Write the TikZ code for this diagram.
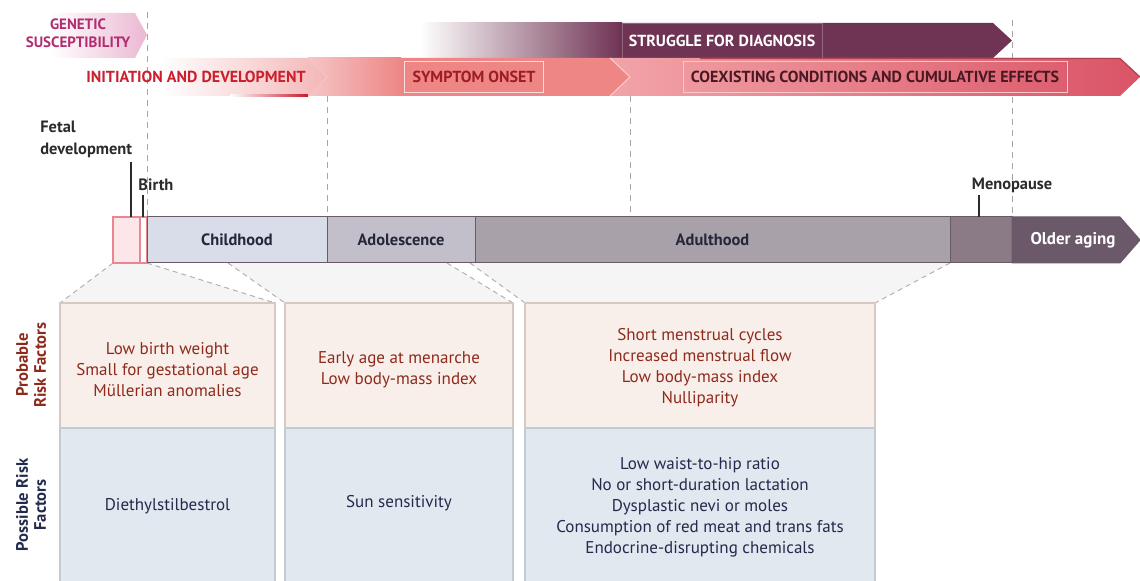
\documentclass[tikz,border=0pt]{standalone}
\usepackage{fontspec}
\setmainfont{PT Sans}
\usetikzlibrary{positioning}
\definecolor{genered}{HTML}{B22C70}
\definecolor{genepink}{HTML}{EBB8D2}
\definecolor{initred}{HTML}{CC1F2E}
\definecolor{initpink}{HTML}{F4B6B6}
\definecolor{initline}{HTML}{C41A2C}
\definecolor{onsetpink}{HTML}{F6C6C6}
\definecolor{onsetsalmon}{HTML}{EE8686}
\definecolor{onsetred}{HTML}{9E1C26}
\definecolor{coexpink}{HTML}{F2A4A8}
\definecolor{coexrose}{HTML}{DA5466}
\definecolor{coexdark}{HTML}{4A1822}
\definecolor{strugglepurple}{HTML}{6F3353}
\definecolor{labelgray}{HTML}{2B2B2B}
\definecolor{fetalpink}{HTML}{FCE6E9}
\definecolor{fetalline}{HTML}{E8878F}
\definecolor{childfill}{HTML}{D9DCE9}
\definecolor{adolfill}{HTML}{C3BFCA}
\definecolor{adultfill}{HTML}{A9A1A9}
\definecolor{menofill}{HTML}{8B7B86}
\definecolor{olderfill}{HTML}{6B5868}
\definecolor{stageline}{HTML}{6A5A68}
\definecolor{stagenavy}{HTML}{24263A}
\definecolor{probfill}{HTML}{F9EFEA}
\definecolor{probline}{HTML}{D6C8C2}
\definecolor{probred}{HTML}{8E2A1C}
\definecolor{possfill}{HTML}{E1E8EF}
\definecolor{possline}{HTML}{C2CAD2}
\definecolor{possnavy}{HTML}{232A4C}
\definecolor{funnelgray}{HTML}{F5F5F5}

\begin{document}
\begin{tikzpicture}[x=0.5pt,y=-0.5pt]
\tikzstyle{guide}=[draw=black!35, dash pattern=on 3pt off 2.5pt, line width=0.5pt]
\tikzstyle{bandtext}=[font=\fontsize{8}{9}\selectfont\bfseries, inner sep=2pt]
\tikzstyle{textbox}=[bandtext, minimum height=15.5pt, line width=0.4pt]
\tikzstyle{stage}=[rectangle, draw=stageline, line width=0.5pt, minimum height=23pt, outer sep=0pt, inner sep=0pt, font=\fontsize{8.2}{9}\selectfont\bfseries, text=stagenavy]
\tikzstyle{lifelabel}=[font=\fontsize{8.2}{11}\selectfont\bfseries, text=labelgray, inner sep=0pt]
\tikzstyle{tick}=[draw=labelgray, line width=0.7pt]
\tikzstyle{funnel}=[draw=black!30, dash pattern=on 2.5pt off 2pt, line width=0.5pt]
\tikzstyle{probbox}=[fill=probfill, draw=probline, line width=0.7pt]
\tikzstyle{possbox}=[fill=possfill, draw=possline, line width=0.7pt]
\tikzstyle{probtext}=[align=center, text=probred, font=\fontsize{8.5}{10.5}\selectfont]
\tikzstyle{posstext}=[align=center, text=possnavy, font=\fontsize{8.5}{10.5}\selectfont]
\tikzstyle{rowtext}=[align=center, rotate=90, font=\fontsize{8.3}{9}\selectfont\bfseries]
  \clip (0,0) rectangle (1140,581);
  % guides
  \draw[guide] (147,12) -- (147,217);
  \draw[guide] (327,96) -- (327,217);
  \draw[guide] (630,96) -- (630,217);
  \draw[guide] (1012,20) -- (1012,217);
  % genetic susceptibility
  \shade[left color=white, right color=genepink] (50,13) -- (135,13) -- (147,35) -- (135,58) -- (50,58) -- cycle;
  \node[bandtext, font=\fontsize{7.5}{9}\selectfont\bfseries, text=genered, align=center] (gene) at (78,33) {GENETIC\\SUSCEPTIBILITY};
  % struggle for diagnosis
  \shade[left color=white, right color=strugglepurple] (420,23) rectangle (622,58);
  \fill[strugglepurple] (621,23) -- (993,23) -- (1012,40.5) -- (993,58) -- (621,58) -- cycle;
  \node[textbox, text=white, draw=strugglepurple!75!white, minimum width=100pt, minimum height=17.5pt] (struggle) at (722,40.5) {STRUGGLE FOR DIAGNOSIS};
  % disease course band
  \shade[left color=coexpink, right color=coexrose] (610,58) -- (1120,58) -- (1140,77) -- (1120,96) -- (610,96) -- cycle;
  \draw[coexrose!80!black, line width=0.6pt] (700,58.5) -- (1120,58.5) -- (1140,77);
  \fill[onsetsalmon] (400,58) -- (610,58) -- (630,77) -- (610,96) -- (400,96) -- cycle;
  \shade[left color=onsetpink, right color=onsetsalmon] (308,58) rectangle (401,96);
  \draw[white!60!onsetsalmon, line width=0.5pt] (610,58) -- (630,77) -- (610,96);
  \shade[left color=white, right color=initpink] (160,58) -- (308,58) -- (327,77) -- (308,96) -- (160,96) -- cycle;
  \shade[left color=white, right color=initline] (230,94.5) rectangle (308,96.5);
  \draw[initline!25, line width=0.5pt] (308,58) -- (327,77) -- (308,96);
  \node[bandtext, text=initred, anchor=east] (init) at (310,77) {INITIATION AND DEVELOPMENT};
  \node[textbox, text=onsetred, draw=onsetpink!60!white, minimum width=69.5pt] (onset) at (474,76.5) {SYMPTOM ONSET};
  \node[textbox, text=coexdark, draw=coexpink!60!white, minimum width=192pt] (coex) at (875,76.5) {COEXISTING CONDITIONS AND CUMULATIVE EFFECTS};
  % funnels
  \fill[funnelgray] (113,263) -- (147,263) -- (275,303) -- (60,303) -- cycle;
  \fill[funnelgray] (228,263) -- (447,263) -- (513,303) -- (285,303) -- cycle;
  \fill[funnelgray] (470,263) -- (950,263) -- (875,303) -- (525,303) -- cycle;
  \draw[funnel] (113,263) -- (60,303) (147,263) -- (275,303);
  \draw[funnel] (228,263) -- (285,303) (447,263) -- (513,303);
  \draw[funnel] (470,263) -- (525,303) (950,263) -- (875,303);
  % life stages
  \filldraw[fill=fetalpink, draw=fetalline, line width=0.6pt] (113,217) rectangle (140,263);
  \filldraw[fill=white, draw=fetalline, line width=0.6pt] (140,217) rectangle (147,263);
  \node[stage, fill=childfill, minimum width=90pt, anchor=west] (child) at (147,240) {Childhood};
  \node[stage, fill=adolfill, minimum width=74pt, right=0pt of child] (adol) {Adolescence};
  \node[stage, fill=adultfill, minimum width=237.5pt, right=0pt of adol] (adult) {Adulthood};
  \node[stage, fill=menofill, minimum width=31pt, right=0pt of adult] (meno) {};
  \filldraw[fill=olderfill, draw=stageline, line width=0.5pt] (meno.north east) -- (1120,217) -- (1140,240) -- (1120,263) -- (meno.south east) -- cycle;
  \node[stage, draw=none, text=white, font=\fontsize{8.5}{9}\selectfont\bfseries] (older) at (1073,240) {Older aging};
  % markers
  \node[lifelabel, align=left, anchor=west] (fetal) at (40,139) {Fetal\\development};
  \node[lifelabel, anchor=west] (birth) at (138,185) {Birth};
  \node[lifelabel] (menopause) at (1012,185) {Menopause};
  \coordinate (fetaltick) at (131,217);
  \coordinate (birthtick) at (143,217);
  \coordinate (menotick) at (979,217);
  \draw[tick] ([yshift=-2pt]fetal.south east -| fetaltick) -- (fetaltick);
  \draw[tick] ([yshift=-2pt]birth.south west -| birthtick) -- (birthtick);
  \draw[tick] ([yshift=-1pt]menopause.south -| menotick) -- (menotick);
  % risk factor boxes
  \filldraw[probbox] (60,303) rectangle (275,428);
  \filldraw[possbox] (60,428) rectangle (275,600);
  \filldraw[probbox] (285,303) rectangle (513,428);
  \filldraw[possbox] (285,428) rectangle (513,600);
  \filldraw[probbox] (525,303) rectangle (875,428);
  \filldraw[possbox] (525,428) rectangle (875,600);
  \node[probtext] (fetalprob) at (167.5,370) {Low birth weight\\Small for gestational age\\Müllerian anomalies};
  \node[posstext] (fetalposs) at (167.5,506) {Diethylstilbestrol};
  \node[probtext] (youthprob) at (399,370) {Early age at menarche\\Low body-mass index};
  \node[posstext] (youthposs) at (399,503) {Sun sensitivity};
  \node[probtext] (adultprob) at (700,368) {Short menstrual cycles\\Increased menstrual flow\\Low body-mass index\\Nulliparity};
  \node[posstext] (adultposs) at (700,507) {Low waist-to-hip ratio\\No or short-duration lactation\\Dysplastic nevi or moles\\Consumption of red meat and trans fats\\Endocrine-disrupting chemicals};
  \node[rowtext, text=probred] (problabel) at (31,365) {Probable\\Risk Factors};
  \node[rowtext, text=possnavy] (posslabel) at (31,505) {Possible Risk\\Factors};
\end{tikzpicture}
\end{document}
